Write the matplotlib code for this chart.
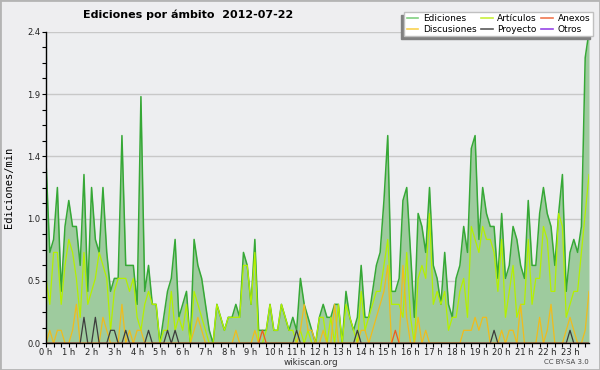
import matplotlib
matplotlib.use('Agg')
import matplotlib.pyplot as plt
import numpy as np
from matplotlib.lines import Line2D
from matplotlib.patches import Rectangle
from matplotlib.ticker import MultipleLocator, FormatStrFormatter

# ediciones por minuto, tramos de 10 minutos (144 por dia)
ediciones = [
    1.4, 0.7, 0.8, 1.2, 0.4, 0.9, 1.1, 0.9, 0.9, 0.6, 1.3, 0.4,
    1.2, 0.8, 0.7, 1.2, 0.7, 0.4, 0.5, 0.5, 1.6, 0.6, 0.6, 0.6,
    0.3, 1.9, 0.4, 0.6, 0.3, 0.3, 0.0, 0.2, 0.4, 0.5, 0.8, 0.2,
    0.3, 0.4, 0.0, 0.8, 0.6, 0.5, 0.3, 0.1, 0.0, 0.3, 0.2, 0.1,
    0.2, 0.2, 0.3, 0.2, 0.7, 0.6, 0.3, 0.8, 0.1, 0.1, 0.1, 0.3,
    0.1, 0.1, 0.3, 0.2, 0.1, 0.2, 0.1, 0.5, 0.3, 0.2, 0.1, 0.0,
    0.2, 0.3, 0.2, 0.2, 0.3, 0.3, 0.0, 0.4, 0.2, 0.1, 0.2, 0.6,
    0.2, 0.2, 0.4, 0.6, 0.7, 1.1, 1.6, 0.4, 0.4, 0.5, 1.1, 1.2,
    0.7, 0.2, 1.0, 0.9, 0.7, 1.2, 0.6, 0.5, 0.3, 0.7, 0.3, 0.2,
    0.5, 0.6, 0.9, 0.7, 1.5, 1.6, 0.8, 1.2, 1.0, 0.9, 0.9, 0.5,
    1.0, 0.5, 0.6, 0.9, 0.8, 0.6, 0.5, 1.1, 0.6, 0.6, 1.0, 1.2,
    1.0, 0.9, 0.6, 1.0, 1.3, 0.4, 0.7, 0.8, 0.7, 0.9, 2.2, 2.4,
]
articulos = [
    0.5, 0.3, 0.7, 0.7, 0.3, 0.6, 0.8, 0.7, 0.5, 0.2, 0.7, 0.3,
    0.4, 0.5, 0.7, 0.6, 0.5, 0.1, 0.4, 0.5, 0.5, 0.5, 0.4, 0.5,
    0.2, 0.1, 0.3, 0.4, 0.3, 0.3, 0.0, 0.1, 0.1, 0.4, 0.1, 0.2,
    0.1, 0.3, 0.0, 0.4, 0.3, 0.2, 0.1, 0.0, 0.0, 0.3, 0.2, 0.1,
    0.2, 0.2, 0.2, 0.2, 0.6, 0.6, 0.3, 0.7, 0.0, 0.0, 0.1, 0.3,
    0.1, 0.1, 0.3, 0.2, 0.1, 0.1, 0.0, 0.1, 0.0, 0.1, 0.0, 0.0,
    0.2, 0.2, 0.0, 0.2, 0.0, 0.3, 0.0, 0.3, 0.2, 0.1, 0.0, 0.4,
    0.1, 0.2, 0.3, 0.4, 0.4, 0.6, 0.8, 0.3, 0.3, 0.3, 0.2, 0.7,
    0.2, 0.0, 0.5, 0.6, 0.5, 1.0, 0.3, 0.4, 0.3, 0.4, 0.1, 0.2,
    0.2, 0.4, 0.5, 0.2, 0.9, 0.8, 0.7, 0.9, 0.8, 0.8, 0.7, 0.4,
    0.8, 0.2, 0.4, 0.6, 0.2, 0.3, 0.3, 0.8, 0.3, 0.5, 0.5, 0.9,
    0.8, 0.4, 0.4, 1.0, 0.9, 0.2, 0.3, 0.4, 0.4, 0.7, 1.0, 1.3,
]
discusiones = [
    0, 0.1, 0, 0.1, 0.1, 0, 0, 0.1, 0.3, 0, 0, 0,
    0, 0, 0, 0.2, 0.1, 0, 0, 0, 0.3, 0, 0.1, 0,
    0.1, 0.1, 0, 0, 0, 0, 0, 0, 0, 0, 0, 0,
    0, 0, 0, 0.1, 0.2, 0.1, 0, 0, 0, 0, 0, 0,
    0, 0, 0.1, 0, 0, 0, 0, 0.1, 0, 0, 0, 0,
    0, 0, 0, 0, 0, 0, 0, 0.1, 0.3, 0.1, 0.1, 0,
    0, 0.1, 0, 0, 0.3, 0, 0, 0, 0, 0, 0, 0.1,
    0.1, 0, 0.1, 0.2, 0.3, 0.4, 0.6, 0, 0, 0, 0.6, 0.2,
    0, 0, 0.2, 0, 0.1, 0, 0, 0, 0, 0, 0, 0,
    0, 0, 0.1, 0.1, 0.1, 0.2, 0.1, 0.2, 0.2, 0, 0, 0,
    0.1, 0, 0.1, 0.1, 0, 0.3, 0, 0, 0, 0, 0.2, 0,
    0.1, 0.3, 0, 0, 0, 0.1, 0.2, 0.1, 0, 0, 0.1, 0.4,
]
proyecto = [
    0, 0, 0, 0, 0, 0, 0, 0, 0, 0, 0.2, 0,
    0, 0.2, 0, 0, 0, 0.1, 0.1, 0, 0, 0.1, 0, 0,
    0, 0, 0, 0.1, 0, 0, 0, 0, 0.1, 0, 0.1, 0,
    0, 0, 0, 0, 0, 0, 0, 0, 0, 0, 0, 0,
    0, 0, 0, 0, 0, 0, 0, 0, 0, 0, 0, 0,
    0, 0, 0, 0, 0, 0, 0.1, 0, 0, 0, 0, 0,
    0, 0, 0, 0, 0, 0, 0, 0, 0, 0, 0.1, 0,
    0, 0, 0, 0, 0, 0, 0, 0, 0, 0, 0, 0,
    0, 0, 0, 0, 0, 0, 0, 0, 0, 0, 0, 0,
    0, 0, 0, 0, 0, 0, 0, 0, 0, 0, 0.1, 0,
    0, 0, 0, 0, 0, 0, 0, 0, 0, 0, 0, 0,
    0, 0, 0, 0, 0, 0, 0.1, 0, 0, 0, 0, 0,
]
anexos = [
    0, 0, 0, 0, 0, 0, 0, 0, 0, 0, 0, 0,
    0, 0, 0, 0, 0, 0, 0, 0, 0, 0, 0, 0,
    0, 0, 0, 0, 0, 0, 0, 0, 0, 0, 0, 0,
    0, 0, 0, 0, 0, 0, 0, 0, 0, 0, 0, 0,
    0, 0, 0, 0, 0, 0, 0, 0, 0, 0.1, 0, 0,
    0, 0, 0, 0, 0, 0, 0, 0, 0, 0, 0, 0,
    0, 0, 0, 0, 0, 0, 0, 0, 0, 0, 0, 0,
    0, 0, 0, 0, 0, 0, 0, 0, 0.1, 0, 0, 0,
    0, 0, 0, 0, 0, 0, 0, 0, 0, 0, 0, 0,
    0, 0, 0, 0, 0, 0, 0, 0, 0, 0, 0, 0,
    0, 0, 0, 0, 0, 0, 0, 0, 0, 0, 0, 0,
    0, 0, 0, 0, 0, 0, 0, 0, 0, 0, 0, 0,
]
otros = [0] * 144

horas = ['%d h' % h for h in range(24)]
yticks = [0, 0.48, 0.96, 1.44, 1.92, 2.4]

x = np.arange(len(ediciones))

fig = plt.figure(figsize=(6, 3.7), dpi=100)
fig.patch.set_facecolor('#eeeef0')
ax = fig.add_axes([46 / 600, 1 - 343.3 / 370, 543 / 600, 311.6 / 370])
ax.set_facecolor('#edeef0')

ax.fill_between(x, 0, ediciones, color='#9ecb9e', lw=0, zorder=1)
ax.plot(x, ediciones, color='#36a836', lw=1.1, zorder=3)
ax.plot(x, articulos, color='#b4f000', lw=0.9, zorder=4)
ax.plot(x, discusiones, color='#f0bc1c', lw=0.9, zorder=5)
ax.plot(x, proyecto, color='#3c3c3c', lw=0.9, zorder=6)
ax.plot(x, anexos, color='#f05a1e', lw=0.9, zorder=7)
ax.plot(x, otros, color='#9933ee', lw=0.9, zorder=2)

ax.set_xlim(0, len(ediciones) - 1)
ax.set_ylim(0, 2.4)
ax.set_xticks(x[::6])
ax.set_xticklabels(horas)
ax.xaxis.set_minor_locator(MultipleLocator(2))
ax.set_yticks(yticks)
ax.yaxis.set_major_formatter(FormatStrFormatter('%.1f'))
ax.yaxis.set_minor_locator(MultipleLocator(0.12))
ax.tick_params(axis='both', which='both', direction='out', length=2.6,
               width=0.8, color='black', labelsize=6, pad=0.6,
               labelcolor='#222222')
ax.tick_params(axis='y', which='both', length=3, pad=1.2)
ax.yaxis.grid(True, which='major', color='#c8c8c8', lw=1)
ax.set_axisbelow(True)
for s in ['top', 'right']:
    ax.spines[s].set_visible(False)
for s in ['left', 'bottom']:
    ax.spines[s].set_linewidth(1)
    ax.spines[s].set_zorder(10)

fig.text(188 / 600, 1 - 15 / 370, 'Ediciones por ámbito  2012-07-22',
         ha='center', va='center', fontsize=8, fontweight='bold')
fig.text(9 / 600, 0.493, 'Ediciones/min', rotation=90, ha='center',
         va='center', family='DejaVu Sans Mono', fontsize=7.5)
fig.text(311 / 600, 1 - 362.5 / 370, 'wikiscan.org', ha='center',
         va='center', fontsize=6.3, color='#333333')
fig.text(589 / 600, 1 - 362.5 / 370, 'CC BY-SA 3.0', ha='right',
         va='center', fontsize=5, color='#444444')

nombres = ['Ediciones', 'Discusiones', 'Artículos', 'Proyecto', 'Anexos', 'Otros']
colores = ['#80d080', '#fad250', '#c8f03c', '#5a5a5a', '#f07850', '#9646e6']
handles = [Line2D([], [], color=c, lw=1.2) for c in colores]
leg = fig.legend(handles, nombres, ncol=3, loc='upper right',
                 bbox_to_anchor=(593 / 600, 1 - 11.7 / 370), fontsize=6.5,
                 frameon=True, fancybox=False, edgecolor='#c0c0c0',
                 framealpha=1, borderpad=0.3, labelspacing=0.15,
                 handlelength=1.3, handletextpad=0.5, columnspacing=0.5,
                 borderaxespad=0)
leg.get_frame().set_linewidth(1)

# sombra del recuadro de la leyenda (a la izquierda y abajo)
fig.canvas.draw()
bb = leg.get_window_extent().transformed(fig.transFigure.inverted())
fig.add_artist(Rectangle((bb.x0 - 3 / 600, bb.y0 - 3 / 370), bb.width, bb.height,
                         transform=fig.transFigure, color='#808080', zorder=4))
fig.add_artist(Rectangle((0, 0), 1, 1, transform=fig.transFigure, fill=False,
                         edgecolor='#b4b4b4', lw=2))

fig.savefig('out.png', dpi=100, facecolor=fig.get_facecolor())
